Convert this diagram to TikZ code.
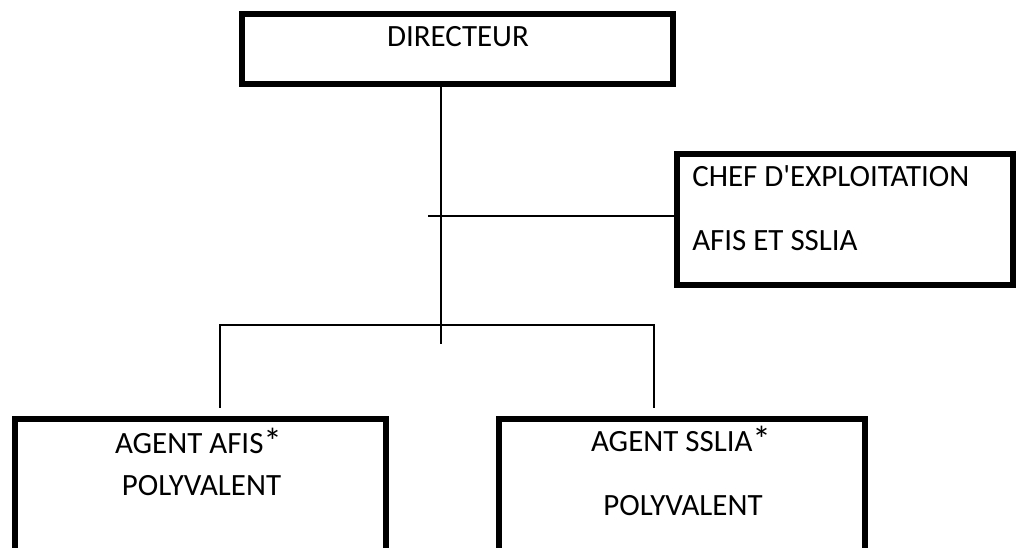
\documentclass[tikz,border=0pt]{standalone}
\usepackage{fontspec}
\setmainfont{Carlito}
\usetikzlibrary{positioning, calc}
\newcommand{\upstar}{\raisebox{-0.04em}{\scalebox{1.2}{*}}}

\begin{document}
\begin{tikzpicture}[x=0.025cm, y=-0.025cm,
    orgbox/.style={draw, line width=4.3pt, rectangle, inner sep=0pt},
    boxtext/.style={inner sep=0pt, font=\fontsize{22}{26}\selectfont},
    link/.style={line width=1pt}]
    \clip (0,0) rectangle (1016,547);

    \node[orgbox, minimum width=10.775cm, minimum height=1.75cm] (dir) at (457.5,49) {};
    \node[orgbox, minimum width=8.4cm, minimum height=3.275cm] (chef) at (845,219.5) {};
    \node[orgbox, minimum width=9.275cm, minimum height=4.025cm] (afis) at (200.5,499.5) {};
    \node[orgbox, minimum width=9.15cm, minimum height=4.025cm] (sslia) at (682,499.5) {};

    \node[boxtext, anchor=base] (dirtext) at (458,46) {DIRECTEUR};
    \node[boxtext, anchor=base west] (cheftexta) at (692,186) {CHEF D\textquotesingle EXPLOITATION};
    \node[boxtext, anchor=base west] (cheftextb) at (692,250) {AFIS ET SSLIA};
    \node[boxtext, anchor=base] (afistexta) at (198.5,453) {AGENT AFIS\upstar};
    \node[boxtext, anchor=base] (afistextb) at (201.5,495) {POLYVALENT};
    \node[boxtext, anchor=base] (ssliatexta) at (681,451) {AGENT SSLIA\upstar};
    \node[boxtext, anchor=base] (ssliatextb) at (683,515) {POLYVALENT};

    \coordinate (trunk) at (441,344);
    \coordinate (tee) at (428,216);
    \coordinate (bl) at (220,325);
    \coordinate (br) at (654,325);

    \draw[link] (dir.south -| trunk) ++(0,-5) -- (trunk);
    \draw[link] (tee) -- (tee -| chef.west);
    \draw[link, shorten <=0.2cm, shorten >=0.2cm] (afis.north -| bl) -- (bl) -- (br) -- (sslia.north -| br);
\end{tikzpicture}
\end{document}
